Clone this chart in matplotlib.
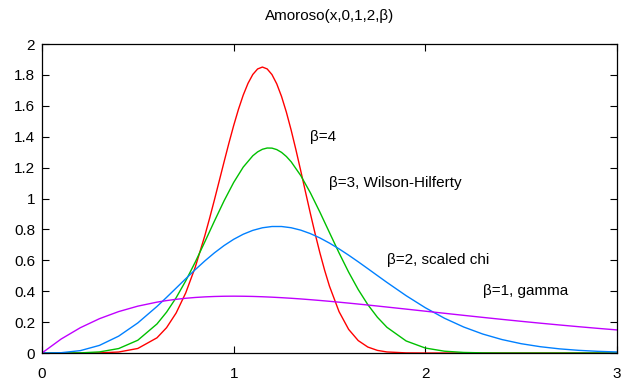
import matplotlib
matplotlib.use("Agg")
import matplotlib.pyplot as plt

# x grid for the beta=1 and beta=2 curves
x = [0.0, 0.1, 0.2, 0.3, 0.4, 0.5, 0.6,
     0.65, 0.7, 0.75, 0.8, 0.85, 0.9, 0.95, 1.0, 1.05, 1.1, 1.15, 1.2,
     1.25, 1.3, 1.35, 1.4, 1.45, 1.5, 1.55, 1.6, 1.65, 1.7, 1.75, 1.8,
     1.9, 2.0, 2.1, 2.2, 2.3, 2.4, 2.5, 2.6, 2.7, 2.8, 2.9, 3.0]

beta1 = [0.0, 0.0905, 0.1637, 0.2222, 0.2681, 0.3033, 0.3293,
         0.3393, 0.3476, 0.3543, 0.3595, 0.3633, 0.3659, 0.3674, 0.3679,
         0.3674, 0.3662, 0.3641, 0.3614, 0.3581, 0.3543, 0.3500, 0.3452,
         0.3401, 0.3347, 0.3290, 0.3230, 0.3169, 0.3106, 0.3041, 0.2975,
         0.2842, 0.2707, 0.2572, 0.2438, 0.2306, 0.2177, 0.2052, 0.1931,
         0.1815, 0.1703, 0.1596, 0.1494]

beta2 = [0.0, 0.0020, 0.0154, 0.0494, 0.1091, 0.1947, 0.3014,
         0.3600, 0.4203, 0.4808, 0.5399, 0.5964, 0.6486, 0.6954, 0.7358,
         0.7688, 0.7938, 0.8105, 0.8188, 0.8188, 0.8108, 0.7953, 0.7730,
         0.7448, 0.7114, 0.6740, 0.6333, 0.5904, 0.5461, 0.5013, 0.4568,
         0.3711, 0.2931, 0.2251, 0.1684, 0.1227, 0.0871, 0.0603, 0.0408,
         0.0269, 0.0173, 0.0109, 0.0067]

# beta=3: a few extra points around the peak
x3 = [0.0, 0.1, 0.2, 0.3, 0.4, 0.5, 0.6,
      0.65, 0.7, 0.75, 0.8, 0.85, 0.9, 0.95, 1.0, 1.05, 1.1, 1.125, 1.15,
      1.175, 1.2, 1.225, 1.25, 1.275, 1.3, 1.35, 1.4, 1.45, 1.5, 1.55,
      1.6, 1.65, 1.7, 1.75, 1.8,
      1.9, 2.0, 2.1, 2.2, 2.3, 2.4, 2.5, 2.6, 2.7, 2.8, 2.9, 3.0]

beta3 = [0.0, 0.00003, 0.00095, 0.0071, 0.0288, 0.0827, 0.1880,
         0.2645, 0.3578, 0.4669, 0.5891, 0.7203, 0.8545, 0.9849, 1.1036,
         1.2032, 1.2766, 1.3017, 1.3186, 1.3268, 1.3261, 1.3166, 1.2985,
         1.2721, 1.2379, 1.1488, 1.0377, 0.9119, 0.7795, 0.6479, 0.5234,
         0.4108, 0.3131, 0.2316, 0.1662,
         0.0780, 0.0322, 0.0117, 0.0037, 0.0010, 0.0002, 0.00005, 0.0,
         0.0, 0.0, 0.0, 0.0]

# beta=4: narrow peak, finer spacing
x4 = [0.0, 0.1, 0.2, 0.3, 0.4, 0.5, 0.6,
      0.65, 0.7, 0.75, 0.8, 0.85, 0.875, 0.9, 0.925, 0.95, 0.975, 1.0,
      1.025, 1.05, 1.075, 1.1, 1.125, 1.15, 1.175, 1.2, 1.225, 1.25,
      1.275, 1.3, 1.325, 1.35, 1.375, 1.4, 1.425, 1.45, 1.475,
      1.5, 1.55, 1.6, 1.65, 1.7, 1.75, 1.8, 1.9, 2.0, 2.1, 3.0]

beta4 = [0.0, 0.0, 0.00005, 0.00087, 0.0064, 0.0294, 0.0984,
         0.1640, 0.2591, 0.3891, 0.5569, 0.7608, 0.8741, 0.9927, 1.1146,
         1.2370, 1.3571, 1.4715,
         1.5767, 1.6692, 1.7455, 1.8029, 1.8385, 1.8508, 1.8387, 1.8021,
         1.7419, 1.6601, 1.5593, 1.4430, 1.3152, 1.1800, 1.0419, 0.9049,
         0.7727, 0.6484, 0.5345,
         0.4326, 0.2677, 0.1530, 0.0804, 0.0387, 0.0170, 0.0068, 0.0008,
         0.00006, 0.0, 0.0]

labels = ["\u03b2=4", "\u03b2=3, Wilson-Hilferty", "\u03b2=2, scaled chi", "\u03b2=1, gamma"]
label_pos = [(1.4, 1.4), (1.5, 1.1), (1.8, 0.6), (2.3, 0.4)]

plt.rcParams["font.family"] = ["Liberation Sans", "DejaVu Sans"]

fig = plt.figure(figsize=(6.21, 3.83), dpi=100)
ax = fig.add_axes([0.0676, 0.0783, 0.9259, 0.8068])

ax.plot(x4, beta4, color="#ff0000", lw=1.0)
ax.plot(x3, beta3, color="#00c000", lw=1.0)
ax.plot(x, beta2, color="#0080ff", lw=1.0)
ax.plot(x, beta1, color="#c000ff", lw=1.0)

for txt, (tx, ty) in zip(labels, label_pos):
    ax.text(tx, ty, txt, fontsize=11, ha="left", va="center")

ax.set_xlim(0, 3)
ax.set_ylim(0, 2)
ax.set_xticks([0, 1, 2, 3])
ax.set_xticklabels(["0", "1", "2", "3"])
yt = [0, 0.2, 0.4, 0.6, 0.8, 1, 1.2, 1.4, 1.6, 1.8, 2]
ax.set_yticks(yt)
ax.set_yticklabels(["0", "0.2", "0.4", "0.6", "0.8", "1", "1.2", "1.4", "1.6", "1.8", "2"])
ax.tick_params(direction="in", length=5, width=0.8, labelsize=11,
               top=True, right=True)
ax.tick_params(axis="x", pad=10)
ax.tick_params(axis="y", pad=5)
for s in ax.spines.values():
    s.set_linewidth(0.9)

# title centred over the plot area
fig.text(0.531, 0.957, "Amoroso(x,0,1,2,\u03b2)", ha="center", va="center", fontsize=11)

fig.savefig("out.png", dpi=100)
